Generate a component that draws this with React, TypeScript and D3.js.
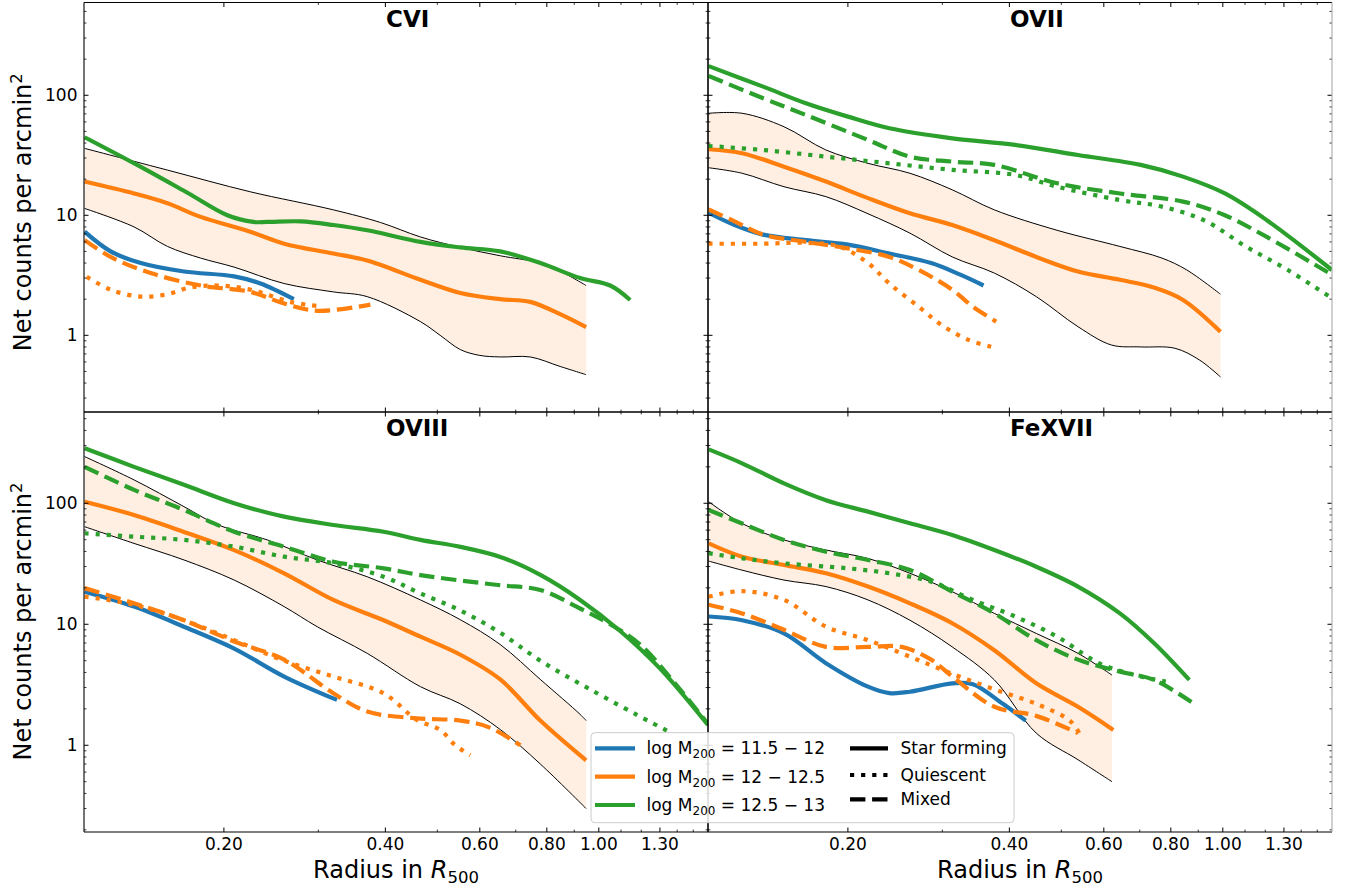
import React from 'react';
import * as d3 from 'd3';

type Pt = [number, number];

// ---------- axes / ticks ----------
const X_DOMAIN: [number, number] = [0.1097, 1.598];
const xTickMajor = [0.2, 0.4, 0.6, 0.8, 1.0, 1.3];
const xTickLabels = ['0.20', '0.40', '0.60', '0.80', '1.00', '1.30'];
const xTickMinor = [0.3, 0.5, 0.7, 0.9, 1.1, 1.2, 1.4, 1.5];
const yTickMajor = [1, 10, 100];
const yTickLabels = ['1', '10', '100'];

// ---------- CVI ----------
const cviBandHi: Pt[] = [[0.11, 36.1], [0.157, 23.8], [0.224, 15.7], [0.32, 11.1], [0.392, 8.7], [0.465, 6.6], [0.552, 5.4], [0.655, 4.6], [0.778, 4.0], [0.85, 3.4], [0.947, 2.6]];
const cviBandLo: Pt[] = [[0.11, 11.4], [0.136, 8.0], [0.157, 5.5], [0.181, 4.4], [0.209, 3.7], [0.259, 2.7], [0.32, 2.3], [0.37, 2.1], [0.465, 1.3], [0.506, 1.0], [0.552, 0.76], [0.6, 0.68], [0.655, 0.66], [0.745, 0.66], [0.847, 0.55], [0.947, 0.47]];
const cviOrangeSF: Pt[] = [[0.11, 19.1], [0.136, 15.2], [0.157, 12.6], [0.181, 9.7], [0.224, 7.3], [0.259, 5.8], [0.32, 4.8], [0.37, 4.2], [0.465, 2.9], [0.552, 2.25], [0.655, 2.0], [0.745, 1.9], [0.847, 1.5], [0.947, 1.17]];
const cviOrangeQ: Pt[] = [[0.111, 3.07], [0.123, 2.4], [0.14, 2.1], [0.157, 2.2], [0.173, 2.5], [0.195, 2.6], [0.224, 2.4], [0.266, 1.9], [0.3, 1.75]];
const cviOrangeMixed: Pt[] = [[0.11, 6.2], [0.123, 4.5], [0.146, 3.3], [0.181, 2.6], [0.224, 2.3], [0.259, 1.84], [0.299, 1.6], [0.375, 1.8]];
const cviBlueSF: Pt[] = [[0.11, 7.3], [0.123, 5.0], [0.14, 4.0], [0.1685, 3.4], [0.209, 3.1], [0.234, 2.7], [0.27, 2.0]];
const cviGreenSF: Pt[] = [[0.11, 44.7], [0.14, 25.3], [0.171, 15.4], [0.203, 10.0], [0.227, 8.8], [0.241, 8.8], [0.278, 8.9], [0.32, 8.3], [0.37, 7.5], [0.465, 6.0], [0.552, 5.4], [0.655, 5.0], [0.778, 4.0], [0.923, 3.0], [1.05, 2.6], [1.144, 1.97]];

// ---------- OVII ----------
const oviiBandHi: Pt[] = [[0.11, 70.8], [0.127, 70.8], [0.152, 54.7], [0.182, 35], [0.218, 27.1], [0.261, 22.4], [0.313, 16.3], [0.375, 11.1], [0.491, 7.5], [0.643, 5.5], [0.77, 4.4], [0.857, 3.5], [0.99, 2.2]];
const oviiBandLo: Pt[] = [[0.11, 24.9], [0.127, 22.4], [0.152, 17.3], [0.182, 14.3], [0.218, 10.3], [0.261, 7.1], [0.313, 4.5], [0.375, 3.3], [0.449, 2.1], [0.537, 1.18], [0.62, 0.83], [0.703, 0.8], [0.814, 0.78], [0.906, 0.62], [0.99, 0.45]];
const oviiOrangeSF: Pt[] = [[0.11, 35.5], [0.127, 32.9], [0.152, 25.4], [0.182, 19.1], [0.218, 13.9], [0.261, 10.4], [0.313, 8.3], [0.375, 6.2], [0.449, 4.5], [0.537, 3.4], [0.643, 2.9], [0.744, 2.5], [0.843, 1.97], [0.99, 1.07]];
const oviiOrangeQ: Pt[] = [[0.11, 5.8], [0.139, 5.8], [0.167, 5.9], [0.1925, 5.5], [0.218, 4.0], [0.239, 2.7], [0.271, 1.73], [0.302, 1.18], [0.337, 0.91], [0.371, 0.8]];
const oviiOrangeMixed: Pt[] = [[0.11, 11.2], [0.123, 8.9], [0.139, 6.9], [0.167, 6.0], [0.2, 5.3], [0.239, 4.5], [0.271, 3.5], [0.313, 2.4], [0.342, 1.73], [0.378, 1.3]];
const oviiBlueSF: Pt[] = [[0.11, 10.5], [0.123, 8.3], [0.139, 6.9], [0.167, 6.2], [0.2, 5.7], [0.239, 4.8], [0.286, 4.0], [0.324, 3.2], [0.358, 2.6]];
const oviiGreenSF: Pt[] = [[0.11, 175], [0.139, 118], [0.167, 85.8], [0.2, 66.4], [0.239, 53.1], [0.313, 43.8], [0.41, 38.6], [0.537, 31.8], [0.703, 26.3], [0.843, 21.0], [1.009, 15.2], [1.208, 9.1], [1.598, 3.5]];
const oviiGreenQ: Pt[] = [[0.11, 37.8], [0.139, 35], [0.182, 30.8], [0.239, 27.1], [0.313, 23.9], [0.41, 21.7], [0.491, 17.3], [0.643, 13.4], [0.77, 11.8], [0.922, 9.1], [1.104, 5.5], [1.322, 3.5], [1.582, 2.1]];
const oviiGreenMixed: Pt[] = [[0.11, 145], [0.139, 94.4], [0.167, 68.5], [0.218, 42.4], [0.261, 30.8], [0.313, 28.0], [0.375, 26.3], [0.491, 18.5], [0.643, 15.2], [0.843, 13.0], [1.009, 10.0], [1.208, 6.6], [1.598, 3.2]];

// ---------- OVIII ----------
const oviiiBandHi: Pt[] = [[0.11, 243], [0.136, 156], [0.1685, 93.8], [0.195, 66.2], [0.241, 49.8], [0.2985, 34], [0.37, 24.7], [0.465, 15.9], [0.552, 10.9], [0.655, 6.8], [0.778, 3.5], [0.923, 1.8], [0.947, 1.6]];
const oviiiBandLo: Pt[] = [[0.11, 64], [0.136, 46.6], [0.1685, 34], [0.209, 23.2], [0.259, 14], [0.2985, 9.55], [0.37, 5.75], [0.465, 3.05], [0.552, 2.2], [0.655, 1.35], [0.778, 0.7], [0.947, 0.3]];
const oviiiOrangeSF: Pt[] = [[0.11, 103], [0.136, 80], [0.1685, 58], [0.209, 41], [0.259, 26.4], [0.32, 15.9], [0.397, 10.8], [0.465, 7.9], [0.552, 5.6], [0.655, 3.5], [0.778, 1.6], [0.947, 0.75]];
const oviiiOrangeQ: Pt[] = [[0.11, 16.9], [0.136, 14.5], [0.1685, 10.8], [0.209, 7.4], [0.259, 5.0], [0.32, 3.7], [0.397, 2.69], [0.458, 1.62], [0.506, 1.34], [0.54, 1.0], [0.576, 0.83]];
const oviiiOrangeMixed: Pt[] = [[0.11, 19.9], [0.136, 14.9], [0.1685, 10.8], [0.209, 7.2], [0.259, 5.1], [0.32, 2.69], [0.37, 1.9], [0.458, 1.67], [0.552, 1.6], [0.626, 1.4], [0.714, 1.0]];
const oviiiBlueSF: Pt[] = [[0.11, 18.6], [0.136, 14], [0.1685, 9.55], [0.209, 6.3], [0.259, 3.7], [0.325, 2.37]];
const oviiiGreenSF: Pt[] = [[0.11, 285], [0.136, 200], [0.1685, 142], [0.209, 100], [0.259, 77.5], [0.32, 66.2], [0.397, 58.2], [0.465, 49.8], [0.552, 43.6], [0.655, 36], [0.778, 25.6], [0.923, 15.9], [1.096, 8.8], [1.301, 4.3], [1.598, 1.47]];
const oviiiGreenQ: Pt[] = [[0.11, 56.5], [0.136, 53], [0.1685, 49.8], [0.209, 43.8], [0.259, 36.2], [0.32, 31.9], [0.397, 24.7], [0.465, 18], [0.552, 13], [0.655, 8.5], [0.778, 5.0], [0.963, 2.9], [1.247, 1.56], [1.35, 1.3]];
const oviiiGreenMixed: Pt[] = [[0.11, 200], [0.136, 129], [0.1685, 88], [0.209, 58.2], [0.259, 43.8], [0.32, 32.9], [0.397, 29], [0.465, 25.5], [0.552, 23], [0.655, 21], [0.778, 19.2], [0.923, 13.5], [1.05, 10], [1.194, 6.8], [1.417, 2.9], [1.598, 1.5]];

// ---------- FeXVII ----------
const fexBandHi: Pt[] = [[0.11, 103], [0.127, 68], [0.152, 49.8], [0.182, 41.1], [0.218, 35], [0.261, 26.4], [0.313, 18.6], [0.375, 12.3], [0.449, 8.4], [0.537, 5.75], [0.6215, 3.8]];
const fexBandLo: Pt[] = [[0.11, 33.3], [0.127, 28], [0.152, 23.2], [0.182, 20.5], [0.218, 15.9], [0.261, 10.8], [0.313, 6.5], [0.375, 3.47], [0.449, 1.26], [0.537, 0.76], [0.6215, 0.5]];
const fexOrangeSF: Pt[] = [[0.11, 46.7], [0.127, 36.2], [0.152, 30.9], [0.182, 26.4], [0.218, 20.5], [0.261, 14.9], [0.313, 10.2], [0.375, 6.1], [0.449, 3.25], [0.537, 2.08], [0.625, 1.34]];
const fexOrangeQ: Pt[] = [[0.11, 16.9], [0.127, 18.8], [0.152, 15.9], [0.182, 9.55], [0.218, 7.4], [0.261, 5.4], [0.313, 3.9], [0.375, 2.9], [0.449, 2.2], [0.5185, 1.6], [0.54, 1.26]];
const fexOrangeMixed: Pt[] = [[0.11, 14.5], [0.127, 12.3], [0.152, 9.0], [0.182, 6.5], [0.218, 6.5], [0.252, 6.5], [0.286, 5.1], [0.313, 3.7], [0.375, 2.08], [0.449, 1.75], [0.537, 1.26]];
const fexBlueSF: Pt[] = [[0.11, 11.6], [0.127, 10.8], [0.152, 8.4], [0.182, 4.77], [0.218, 3.05], [0.239, 2.7], [0.261, 2.77], [0.313, 3.25], [0.342, 3.2], [0.389, 2.2], [0.429, 1.6]];
const fexGreenSF: Pt[] = [[0.11, 279], [0.127, 214], [0.152, 146], [0.182, 106], [0.218, 85.3], [0.261, 68.4], [0.313, 54.7], [0.375, 41.1], [0.449, 29.9], [0.537, 20.5], [0.643, 12.3], [0.744, 7.0], [0.866, 3.47]];
const fexGreenQ: Pt[] = [[0.11, 38.6], [0.127, 35.1], [0.152, 31.9], [0.2, 29], [0.239, 26.4], [0.286, 22.5], [0.342, 15.9], [0.41, 11.6], [0.491, 7.9], [0.5875, 4.77], [0.7036, 3.7], [0.783, 3.36]];
const fexGreenMixed: Pt[] = [[0.11, 88], [0.127, 68], [0.152, 49.8], [0.182, 39.8], [0.218, 34], [0.261, 28.1], [0.313, 18.6], [0.375, 12.3], [0.449, 7.4], [0.537, 5.1], [0.643, 4.06], [0.744, 3.47], [0.891, 2.15]];

// ---------- legend ----------
const massLabels = ['11.5 \u2212 12', '12 \u2212 12.5', '12.5 \u2212 13'];
const massColors = ['#1f77b4', '#ff7f0e', '#2ca02c'];
const typeLabels = ['Star forming', 'Quiescent', 'Mixed'];
const typeStyles = ['sf', 'q', 'mixed'];

const DASH: Record<string, string | undefined> = { sf: undefined, q: '4.2,6.9', mixed: '15.4,6.7' };
const C = { blue: '#1f77b4', orange: '#ff7f0e', green: '#2ca02c' };
const FONT = '"DejaVu Sans", sans-serif';

type LineDef = { d: Pt[]; c: string; s: string };
type PanelDef = {
  title: string; x0: number; x1: number; y0: number; y1: number;
  yDomain: [number, number]; left: boolean; bottom: boolean;
  bandHi: Pt[]; bandLo: Pt[]; lines: LineDef[];
};

const TOP_Y: [number, number] = [0.2296, 593];
const BOT_Y: [number, number] = [0.192, 568];

const panels: PanelDef[] = [
  {
    title: 'CVI', x0: 84, x1: 708, y0: 2.5, y1: 412, yDomain: TOP_Y, left: true, bottom: false,
    bandHi: cviBandHi, bandLo: cviBandLo,
    lines: [
      { d: cviBlueSF, c: C.blue, s: 'sf' },
      { d: cviOrangeSF, c: C.orange, s: 'sf' },
      { d: cviOrangeQ, c: C.orange, s: 'q' },
      { d: cviOrangeMixed, c: C.orange, s: 'mixed' },
      { d: cviGreenSF, c: C.green, s: 'sf' },
    ],
  },
  {
    title: 'OVII', x0: 708, x1: 1332, y0: 2.5, y1: 412, yDomain: TOP_Y, left: false, bottom: false,
    bandHi: oviiBandHi, bandLo: oviiBandLo,
    lines: [
      { d: oviiBlueSF, c: C.blue, s: 'sf' },
      { d: oviiOrangeSF, c: C.orange, s: 'sf' },
      { d: oviiOrangeQ, c: C.orange, s: 'q' },
      { d: oviiOrangeMixed, c: C.orange, s: 'mixed' },
      { d: oviiGreenSF, c: C.green, s: 'sf' },
      { d: oviiGreenQ, c: C.green, s: 'q' },
      { d: oviiGreenMixed, c: C.green, s: 'mixed' },
    ],
  },
  {
    title: 'OVIII', x0: 84, x1: 708, y0: 412, y1: 832, yDomain: BOT_Y, left: true, bottom: true,
    bandHi: oviiiBandHi, bandLo: oviiiBandLo,
    lines: [
      { d: oviiiBlueSF, c: C.blue, s: 'sf' },
      { d: oviiiOrangeSF, c: C.orange, s: 'sf' },
      { d: oviiiOrangeQ, c: C.orange, s: 'q' },
      { d: oviiiOrangeMixed, c: C.orange, s: 'mixed' },
      { d: oviiiGreenSF, c: C.green, s: 'sf' },
      { d: oviiiGreenQ, c: C.green, s: 'q' },
      { d: oviiiGreenMixed, c: C.green, s: 'mixed' },
    ],
  },
  {
    title: 'FeXVII', x0: 708, x1: 1332, y0: 412, y1: 832, yDomain: BOT_Y, left: false, bottom: true,
    bandHi: fexBandHi, bandLo: fexBandLo,
    lines: [
      { d: fexBlueSF, c: C.blue, s: 'sf' },
      { d: fexOrangeSF, c: C.orange, s: 'sf' },
      { d: fexOrangeQ, c: C.orange, s: 'q' },
      { d: fexOrangeMixed, c: C.orange, s: 'mixed' },
      { d: fexGreenSF, c: C.green, s: 'sf' },
      { d: fexGreenQ, c: C.green, s: 'q' },
      { d: fexGreenMixed, c: C.green, s: 'mixed' },
    ],
  },
];

function yMinorTicks(domain: [number, number]): number[] {
  const out: number[] = [];
  for (let e = -1; e <= 3; e++) {
    for (let m = 2; m <= 9; m++) {
      const v = m * Math.pow(10, e);
      if (v > domain[0] && v < domain[1]) out.push(v);
    }
  }
  return out;
}

function Panel({ p, idx }: { p: PanelDef; idx: number }) {
  const x = d3.scaleLog().domain(X_DOMAIN).range([p.x0, p.x1]);
  const y = d3.scaleLog().domain(p.yDomain).range([p.y1, p.y0]);
  const line = d3.line<Pt>().x(d => x(d[0])).y(d => y(d[1])).curve(d3.curveCatmullRom.alpha(0.5));
  const hiPath = line(p.bandHi) || '';
  const loRevPath = line([...p.bandLo].reverse()) || '';
  const bandPath = hiPath + 'L' + loRevPath.slice(1) + 'Z';
  const clipId = `clip-${idx}`;
  const tickColor = '#000';
  const yMinor = yMinorTicks(p.yDomain);
  return (
    <g>
      <defs>
        <clipPath id={clipId}>
          <rect x={p.x0} y={p.y0} width={p.x1 - p.x0} height={p.y1 - p.y0} />
        </clipPath>
      </defs>
      <g clipPath={`url(#${clipId})`}>
        <path d={bandPath} fill="#ff7f0e" fillOpacity={0.12} stroke="none" />
        <path d={line(p.bandHi) || ''} fill="none" stroke="#000" strokeWidth={1} />
        <path d={line(p.bandLo) || ''} fill="none" stroke="#000" strokeWidth={1} />
        {p.lines.map((l, i) => (
          <path key={i} d={line(l.d) || ''} fill="none" stroke={l.c} strokeWidth={4.2}
            strokeDasharray={DASH[l.s]} strokeLinecap="butt" strokeLinejoin="round" />
        ))}
      </g>
      {/* ticks */}
      {xTickMajor.map((t, i) => (
        <g key={'xM' + i}>
          <line x1={x(t)} x2={x(t)} y1={p.y1} y2={p.y1 - 4.5} stroke={tickColor} strokeWidth={1} />
          <line x1={x(t)} x2={x(t)} y1={p.y0} y2={p.y0 + 4.5} stroke={tickColor} strokeWidth={1} />
        </g>
      ))}
      {xTickMinor.map((t, i) => (
        <g key={'xm' + i}>
          <line x1={x(t)} x2={x(t)} y1={p.y1} y2={p.y1 - 2.4} stroke={tickColor} strokeWidth={0.8} />
          <line x1={x(t)} x2={x(t)} y1={p.y0} y2={p.y0 + 2.4} stroke={tickColor} strokeWidth={0.8} />
        </g>
      ))}
      {yTickMajor.map((t, i) => (
        <g key={'yM' + i}>
          <line x1={p.x0} x2={p.x0 + 4.5} y1={y(t)} y2={y(t)} stroke={tickColor} strokeWidth={1} />
          <line x1={p.x1} x2={p.x1 - 4.5} y1={y(t)} y2={y(t)} stroke={tickColor} strokeWidth={1} />
        </g>
      ))}
      {yMinor.map((t, i) => (
        <g key={'ym' + i}>
          <line x1={p.x0} x2={p.x0 + 2.4} y1={y(t)} y2={y(t)} stroke={tickColor} strokeWidth={0.8} />
          <line x1={p.x1} x2={p.x1 - 2.4} y1={y(t)} y2={y(t)} stroke={tickColor} strokeWidth={0.8} />
        </g>
      ))}
      {/* spines */}
      <line x1={p.x0} x2={p.x1} y1={p.y0} y2={p.y0} stroke="#000" strokeWidth={1.1} />
      <line x1={p.x0} x2={p.x1} y1={p.y1} y2={p.y1} stroke="#000" strokeWidth={1.1} />
      <line x1={p.x0} x2={p.x0} y1={p.y0} y2={p.y1} stroke="#000" strokeWidth={1.1} />
      <line x1={p.x1} x2={p.x1} y1={p.y0} y2={p.y1} stroke={p.left ? '#000' : '#aaa'} strokeWidth={1.1} />
      {/* tick labels */}
      {p.left && yTickMajor.map((t, i) => (
        <text key={'yl' + i} x={p.x0 - 6.5} y={y(t) + 6} textAnchor="end" fontSize={17} fontFamily={FONT} fill="#000">{yTickLabels[i]}</text>
      ))}
      {p.bottom && xTickMajor.map((t, i) => (
        <text key={'xl' + i} x={x(t)} y={850} textAnchor="middle" fontSize={17} fontFamily={FONT} fill="#000">{xTickLabels[i]}</text>
      ))}
      <text x={p.x0 + 302} y={p.y0 + 24.3} fontSize={23} fontWeight="bold" fontFamily={FONT} fill="#000">{p.title}</text>
      {p.left && (
        <text transform={`translate(31,${(p.y0 + p.y1) / 2 + (p.bottom ? -0.5 : 5)}) rotate(-90)`} textAnchor="middle" fontSize={24} fontFamily={FONT} fill="#000">
          Net counts per arcmin<tspan fontSize={16.5} dy={-9}>2</tspan>
        </text>
      )}
      {p.bottom && (
        <text x={(p.x0 + p.x1) / 2} y={878} textAnchor="middle" fontSize={24} fontFamily={FONT} fill="#000">
          Radius in <tspan fontStyle="italic">R</tspan><tspan fontSize={16.5} dy={5}>500</tspan>
        </text>
      )}
    </g>
  );
}

function Legend() {
  const bx = 591, by = 732.7, bw = 423, bh = 90;
  const rows1 = [748.3, 776.7, 805];
  const rows2 = [748.3, 775, 799.3];
  return (
    <g>
      <rect x={bx} y={by} width={bw} height={bh} rx={4} ry={4} fill="#fff" fillOpacity={0.85} stroke="#cccccc" strokeWidth={1} />
      {massLabels.map((lab, i) => (
        <g key={'m' + i}>
          <line x1={595} x2={635} y1={rows1[i]} y2={rows1[i]} stroke={massColors[i]} strokeWidth={4.2} />
          <text x={646.5} y={rows1[i] + 6} fontSize={17} fontFamily={FONT} fill="#000">
            log M<tspan fontSize={12} dy={4}>200</tspan><tspan dy={-4}> = {lab}</tspan>
          </text>
        </g>
      ))}
      {typeLabels.map((lab, i) => (
        <g key={'t' + i}>
          <line x1={850} x2={888} y1={rows2[i]} y2={rows2[i]} stroke="#000" strokeWidth={4.2}
            strokeDasharray={DASH[typeStyles[i]]} />
          <text x={900.5} y={rows2[i] + 6} fontSize={17} fontFamily={FONT} fill="#000">{lab}</text>
        </g>
      ))}
    </g>
  );
}

export default function App() {
  return (
    <svg width={1358} height={893} viewBox="0 0 1358 893"
      style={{ position: 'absolute', left: 0, top: 0, background: '#fff' }}>
      <rect x={0} y={0} width={1358} height={893} fill="#fff" />
      {panels.map((p, i) => <Panel key={i} p={p} idx={i} />)}
      <Legend />
    </svg>
  );
}
